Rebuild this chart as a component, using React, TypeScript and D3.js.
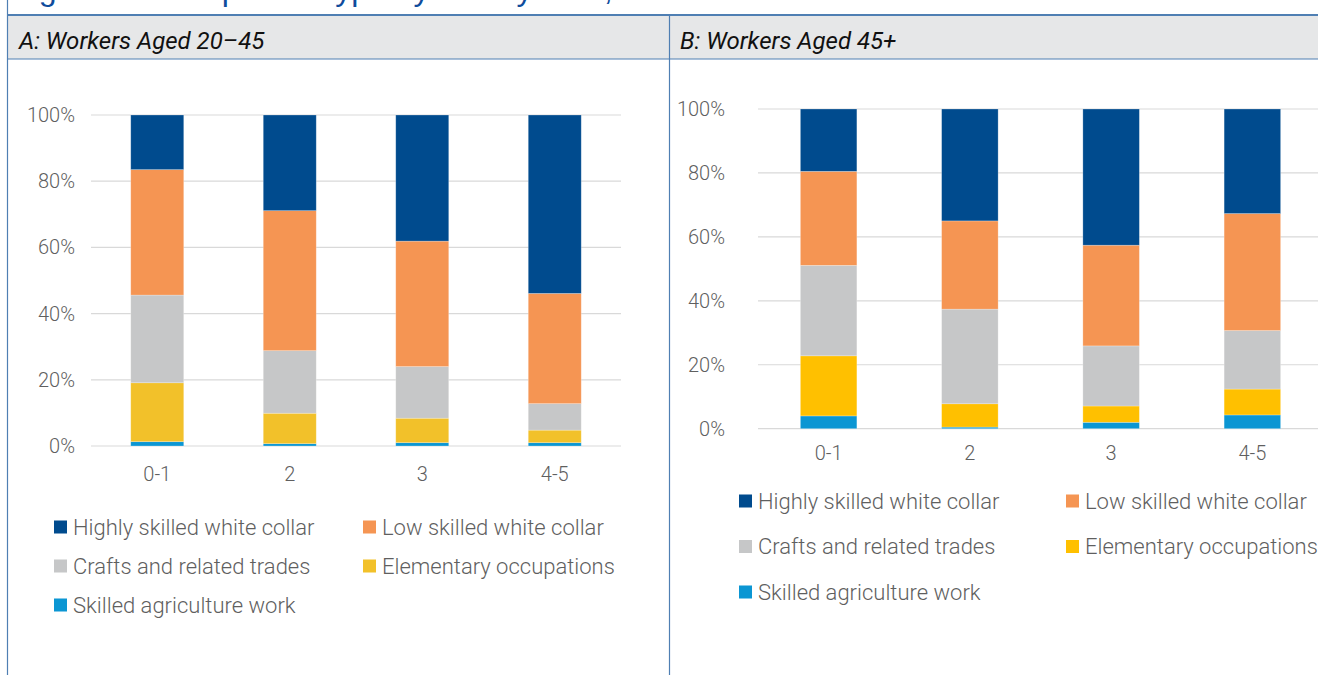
import React from "react";
import * as d3 from "d3";

const categories = ["0-1", "2", "3", "4-5"];
const seriesNames = [
  "Skilled agriculture work",
  "Elementary occupations",
  "Crafts and related trades",
  "Low skilled white collar",
  "Highly skilled white collar",
];
// Panel A: workers aged 20-45 (percent)
const agriA = [1.3, 0.7, 1.0, 1.0];
const elemA = [17.8, 9.2, 7.4, 3.8];
const craftsA = [26.5, 18.9, 15.6, 8.0];
const lowA = [37.9, 42.3, 37.9, 33.3];
const highA = [16.5, 28.9, 38.1, 53.9];
// Panel B: workers aged 45+ (percent)
const agriB = [4.0, 0.5, 2.0, 4.3];
const elemB = [18.8, 7.3, 5.1, 8.1];
const craftsB = [28.3, 29.6, 18.8, 18.3];
const lowB = [29.4, 27.6, 31.5, 36.6];
const highB = [19.5, 35.0, 42.6, 32.7];

const yTicks = [0, 20, 40, 60, 80, 100];
const legendOrder = [
  "Highly skilled white collar",
  "Low skilled white collar",
  "Crafts and related trades",
  "Elementary occupations",
  "Skilled agriculture work",
];

const FONT = "Roboto, 'Liberation Sans', sans-serif";
const TXT = "#5f5f5f";
const BORDER = "#4f7fb3";

type PanelCfg = {
  x0: number; x1: number; yTop: number; yBot: number;
  tickX: number; xLabelY: number;
  colors: Record<string, string>;
  legendX: [number, number]; legendY: number[];
  values: number[][];
};

function Panel({ cfg }: { cfg: PanelCfg }) {
  const x = d3.scaleBand<string>().domain(categories).range([cfg.x0, cfg.x1]).paddingInner(0.6).paddingOuter(0.3);
  const y = d3.scaleLinear().domain([0, 100]).range([cfg.yBot, cfg.yTop]);
  const rows = categories.map((c, i) => {
    const r: any = { cat: c };
    seriesNames.forEach((s, k) => (r[s] = cfg.values[k][i]));
    return r;
  });
  const stacked = d3.stack<any>().keys(seriesNames)(rows);
  const legendPos = legendOrder.map((name, i) => ({
    name,
    x: cfg.legendX[i % 2],
    y: cfg.legendY[Math.floor(i / 2)],
  }));
  return (
    <g>
      {yTicks.map((t) => (
        <g key={t}>
          <line x1={cfg.x0} x2={cfg.x1} y1={y(t)} y2={y(t)} stroke="#d9d9d9" strokeWidth={1.2} />
          <text x={cfg.tickX} y={y(t)} dy="0.35em" textAnchor="end" fontFamily={FONT} fontWeight={300} fontSize={20} fill={TXT}>
            {t}%
          </text>
        </g>
      ))}
      {stacked.map((layer) =>
        layer.map((d, i) => (
          <rect
            key={layer.key + i}
            x={x(categories[i])}
            width={x.bandwidth()}
            y={y(d[1])}
            height={y(d[0]) - y(d[1])}
            fill={cfg.colors[layer.key]}
            stroke="#ffffff"
            strokeOpacity={0.35}
            strokeWidth={0.7}
          />
        ))
      )}
      {categories.map((c) => (
        <text key={c} x={(x(c) as number) + x.bandwidth() / 2} y={cfg.xLabelY} dy="0.35em" textAnchor="middle" fontFamily={FONT} fontWeight={300} fontSize={20} fill={TXT}>
          {c}
        </text>
      ))}
      {legendPos.map((l) => (
        <g key={l.name}>
          <rect x={l.x} y={l.y - 6.5} width={13} height={13} fill={cfg.colors[l.name]} />
          <text x={l.x + 19} y={l.y} dy="0.35em" fontFamily={FONT} fontWeight={300} fontSize={22} fill={TXT}>
            {l.name}
          </text>
        </g>
      ))}
    </g>
  );
}

export default function App() {
  const colorsA: Record<string, string> = {
    "Highly skilled white collar": "#004b8e",
    "Low skilled white collar": "#f59553",
    "Crafts and related trades": "#c6c7c8",
    "Elementary occupations": "#f2c12a",
    "Skilled agriculture work": "#0b96d3",
  };
  const colorsB: Record<string, string> = { ...colorsA, "Elementary occupations": "#ffc000" };
  const cfgA: PanelCfg = {
    x0: 91, x1: 621, yTop: 115, yBot: 446, tickX: 75, xLabelY: 474,
    colors: colorsA, legendX: [54, 363], legendY: [527, 566, 605],
    values: [agriA, elemA, craftsA, lowA, highA],
  };
  const cfgB: PanelCfg = {
    x0: 758, x1: 1323, yTop: 109, yBot: 428.7, tickX: 725, xLabelY: 453,
    colors: colorsB, legendX: [739, 1066], legendY: [501, 546.5, 592],
    values: [agriB, elemB, craftsB, lowB, highB],
  };
  return (
    <svg width={1318} height={675} style={{ position: "absolute", left: 0, top: 0, background: "#fff" }}>
      <rect x={0} y={0} width={1318} height={675} fill="#ffffff" />
      <text x={12} y={0} fontFamily="'Liberation Sans', sans-serif" fontSize={32} fill="#0f4c9c">
        Figure 4: Occupation Type by Family Size, Israel
      </text>
      <rect x={7} y={15} width={1311} height={44} fill="#e6e7e8" />
      <line x1={7} x2={1318} y1={15} y2={15} stroke={BORDER} strokeWidth={2} />
      <line x1={7} x2={1318} y1={59} y2={59} stroke={BORDER} strokeWidth={1} />
      <line x1={7.5} x2={7.5} y1={0} y2={675} stroke={BORDER} strokeWidth={1.2} />
      <line x1={669.5} x2={669.5} y1={15} y2={675} stroke={BORDER} strokeWidth={1.2} />
      <text x={19} y={41} dy="0.35em" fontFamily={FONT} fontStyle="italic" fontSize={24} fill="#111">
        A:  Workers Aged 20–45
      </text>
      <text x={680} y={41} dy="0.35em" fontFamily={FONT} fontStyle="italic" fontSize={24} fill="#111">
        B: Workers Aged 45+
      </text>
      <Panel cfg={cfgA} />
      <Panel cfg={cfgB} />
    </svg>
  );
}
